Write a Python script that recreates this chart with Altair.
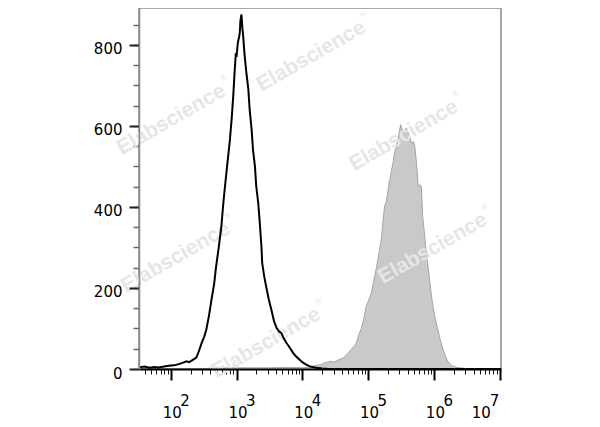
import altair as alt
import pandas as pd

# ---------------- data ----------------
# unstained / control histogram (black open line): log10(x), count
ctrl_log = [1.52, 1.60, 1.68, 1.75, 1.82, 1.90, 1.97, 2.05, 2.12, 2.18, 2.24, 2.28,
            2.33, 2.39, 2.43, 2.47, 2.51, 2.54, 2.58, 2.62, 2.66, 2.69, 2.73, 2.77,
            2.80, 2.82, 2.86, 2.90, 2.93, 2.95, 2.97, 2.99, 3.00, 3.02, 3.04, 3.05,
            3.06, 3.075, 3.09, 3.10, 3.12, 3.15, 3.18, 3.20, 3.23, 3.25, 3.28, 3.30,
            3.33, 3.35, 3.38, 3.39, 3.42, 3.45, 3.49, 3.53, 3.57, 3.61, 3.65, 3.68,
            3.72, 3.76, 3.80, 3.86, 3.90, 3.96, 4.00, 4.06, 4.12, 4.21, 4.30, 4.40,
            5.00, 6.00, 7.02]
ctrl_cnt = [4, 6, 3, 5, 4, 6, 8, 9, 12, 15, 19, 17,
            22, 28, 45, 64, 80, 97, 130, 171, 210, 253, 300, 352,
            410, 443, 505, 566, 625, 673, 730, 780, 770, 805, 820, 830,
            860, 875, 840, 825, 780, 731, 690, 640, 590, 542, 500, 451,
            410, 369, 300, 262, 230, 204, 172, 146, 118, 101, 92, 89,
            75, 64, 55, 40, 32, 23, 17, 11, 6, 3, 1, 0,
            0, 0, 0]

# stained histogram (grey filled): log10(x), count
stain_log = [1.52, 2.40, 2.60, 3.00, 3.50, 3.80, 4.00, 4.10, 4.20, 4.30, 4.36, 4.42,
             4.48, 4.54, 4.62, 4.66, 4.70, 4.74, 4.78, 4.82, 4.86, 4.90, 4.94, 4.97,
             5.01, 5.05, 5.09, 5.13, 5.17, 5.20, 5.23, 5.25, 5.27, 5.29, 5.32, 5.35,
             5.38, 5.40, 5.43, 5.455, 5.48, 5.495, 5.52, 5.55, 5.58, 5.60, 5.63, 5.66,
             5.69, 5.71, 5.74, 5.76, 5.79, 5.81, 5.83, 5.86, 5.88, 5.91, 5.935, 5.96,
             5.985, 6.02, 6.06, 6.10, 6.14, 6.18, 6.21, 6.25, 6.29, 6.35, 6.39, 6.50,
             6.60, 7.02]
stain_cnt = [0, 0, 2, 3, 3, 4, 3, 5, 8, 12, 16, 19,
             17, 22, 27, 33, 40, 48, 55, 64, 85, 101, 128, 155,
             170, 188, 220, 253, 290, 319, 370, 402, 410, 426, 460, 484,
             510, 533, 550, 566, 590, 603, 590, 582, 595, 586, 575, 557,
             562, 549, 500, 450, 455, 450, 376, 330, 294, 255, 220, 185,
             155, 125, 97, 70, 48, 30, 19, 12, 7, 4, 3, 1,
             0, 0]

# axis labels
x_exponents = ["2", "3", "4", "5", "6", "7"]
y_major = [0, 200, 400, 600, 800]
y_minor = list(range(0, 851, 50))
x_major = [10.0 ** int(e) for e in x_exponents]
x_minor = [k * 10.0 ** n for n in range(1, 7) for k in range(2, 10) if k * 10.0 ** n > 34]

# watermark positions (data coordinates)
wm_x = [102, 13650, 347600, 959000, 119, 2825]
wm_y = [615, 772, 576, 297, 275, 64]
wm_text = "Elabscience"

# ---------------- frames ----------------
ctrl = pd.DataFrame({"x": [10 ** v for v in ctrl_log], "y": ctrl_cnt})
stain = pd.DataFrame({"x": [10 ** v for v in stain_log], "y": stain_cnt})
wm = pd.DataFrame({"x": wm_x, "y": wm_y, "t": [wm_text] * len(wm_x)})
lab = pd.DataFrame({"x": x_major, "e": x_exponents, "t": ["10"] * len(x_major)})

W, H = 362, 361
XS = alt.Scale(type="log", domain=[10 ** 1.518, 10 ** 7.02], nice=False)
YS = alt.Scale(domain=[0, 891], nice=False, zero=False)
FONT = "DejaVu Sans"
WM_COLOR = "#e6e6e6"

area = alt.Chart(stain).mark_area(
    color="#c9c9c9", opacity=1, line={"color": "#a5a5a5", "strokeWidth": 1}, interpolate="linear"
).encode(
    x=alt.X("x:Q", scale=XS, axis=alt.Axis(orient="bottom", values=x_minor, tickSize=5,
                                           tickWidth=1, tickColor="#111", labels=False,
                                           domain=False, grid=False, title=None)),
    y=alt.Y("y:Q", scale=YS, axis=alt.Axis(orient="left", values=y_minor, tickSize=6,
                                           tickWidth=1.5, tickColor="#666", labels=False,
                                           domain=False, grid=False, title=None)),
)

wm_main = alt.Chart(wm).mark_text(
    font="Liberation Sans", fontWeight="bold", fontSize=21, color=WM_COLOR,
    angle=330, align="center", baseline="middle"
).encode(
    x=alt.X("x:Q", scale=XS, axis=None),
    y=alt.Y("y:Q", scale=YS, axis=None),
    text="t:N",
)
wm_reg = alt.Chart(wm).mark_text(
    font="Liberation Sans", fontSize=8, color=WM_COLOR,
    angle=330, align="center", baseline="middle", dx=66, dy=-10
).encode(
    x=alt.X("x:Q", scale=XS, axis=None),
    y=alt.Y("y:Q", scale=YS, axis=None),
    text=alt.value("®"),
)

line = alt.Chart(ctrl).mark_line(color="black", strokeWidth=2, interpolate="linear").encode(
    x=alt.X("x:Q", scale=XS, axis=alt.Axis(orient="bottom", values=x_major, tickSize=11,
                                           tickWidth=2, tickColor="black", labels=False,
                                           domainColor="black", domainWidth=2, grid=False,
                                           title=None, zindex=1)),
    y=alt.Y("y:Q", scale=YS, axis=alt.Axis(orient="left", values=y_major, tickSize=10,
                                           tickWidth=2, tickColor="#222", labelFont=FONT,
                                           labelFontSize=15, labelColor="black",
                                           labelPadding=7, labelOffset=4,
                                           domainColor="#8a8a8a", domainWidth=1.5,
                                           grid=False, title=None, zindex=1)),
)

base_lab = alt.Chart(lab)
ten = base_lab.transform_filter("datum.e != '7'").mark_text(
    font=FONT, fontSize=15, color="black", align="center", baseline="alphabetic", dx=1.5
).encode(x=alt.X("x:Q", scale=XS, axis=None), y=alt.value(H + 48.7), text="t:N")
expo = base_lab.transform_filter("datum.e != '7'").mark_text(
    font=FONT, fontSize=15, color="black", align="left", baseline="alphabetic", dx=9.5
).encode(x=alt.X("x:Q", scale=XS, axis=None), y=alt.value(H + 37), text="e:N")
ten7 = base_lab.transform_filter("datum.e == '7'").mark_text(
    font=FONT, fontSize=15, color="black", align="center", baseline="alphabetic", dx=-18.5
).encode(x=alt.X("x:Q", scale=XS, axis=None), y=alt.value(H + 48.7), text="t:N")
expo7 = base_lab.transform_filter("datum.e == '7'").mark_text(
    font=FONT, fontSize=15, color="black", align="left", baseline="alphabetic", dx=-10
).encode(x=alt.X("x:Q", scale=XS, axis=None), y=alt.value(H + 37), text="e:N")

chart = alt.layer(area, wm_main, wm_reg, line, ten, expo, ten7, expo7).resolve_axis(
    x="independent", y="independent"
).properties(
    width=W, height=H,
    autosize=alt.AutoSizeParams(type="none"),
    padding={"left": 131, "top": 0, "right": 90, "bottom": 55},
    background="white",
).configure_view(stroke="#8c8c8c", strokeWidth=1.5)

chart.save("out.html", embed_options={"renderer": "svg", "actions": False})
